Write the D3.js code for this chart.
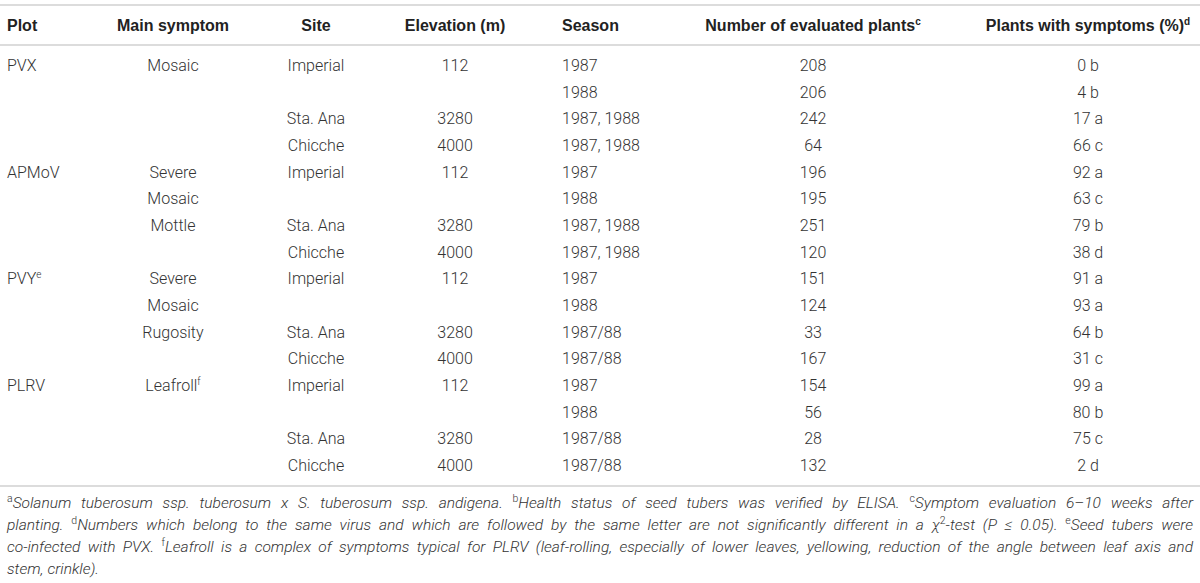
<!DOCTYPE html>
<html><head><meta charset="utf-8">
<script src="https://cdn.jsdelivr.net/npm/d3@7"></script>
<style>
html,body{margin:0;padding:0;background:#fff;}
svg{display:block;}
</style></head>
<body>
<script>
// ---- data ----
const headers = ["Plot","Main symptom","Site","Elevation (m)","Season","Number of evaluated plants","Plants with symptoms (%)"];
const headerSups = ["","","","","","c","d"];
const plots = ["PVX","","","","APMoV","","","","PVY","","","","PLRV","","",""];
const plotSups = ["","","","","","","","","e","","","","","","",""];
const symptoms = ["Mosaic","","","","Severe","Mosaic","Mottle","","Severe","Mosaic","Rugosity","","Leafroll","","",""];
const symptomSups = ["","","","","","","","","","","","","f","","",""];
const sites = ["Imperial","","Sta. Ana","Chicche","Imperial","","Sta. Ana","Chicche","Imperial","","Sta. Ana","Chicche","Imperial","","Sta. Ana","Chicche"];
const elevations = ["112","","3280","4000","112","","3280","4000","112","","3280","4000","112","","3280","4000"];
const seasons = ["1987","1988","1987, 1988","1987, 1988","1987","1988","1987, 1988","1987, 1988","1987","1988","1987/88","1987/88","1987","1988","1987/88","1987/88"];
const evaluated = [208,206,242,64,196,195,251,120,151,124,33,167,154,56,28,132];
const symptomPct = [0,4,17,66,92,63,79,38,91,93,64,31,99,80,75,2];
const pctLetters = ["b","b","a","c","a","c","b","d","a","a","b","c","a","b","c","d"];
const footnoteLines = [
  "^aSolanum tuberosum ssp. tuberosum x S. tuberosum ssp. andigena. ^bHealth status of seed tubers was verified by ELISA. ^cSymptom evaluation 6–10 weeks after",
  "planting. ^dNumbers which belong to the same virus and which are followed by the same letter are not significantly different in a χ^2-test (P ≤ 0.05). ^eSeed tubers were",
  "co-infected with PVX. ^fLeafroll is a complex of symptoms typical for PLRV (leaf-rolling, especially of lower leaves, yellowing, reduction of the angle between leaf axis and",
  "stem, crinkle)."
];

// ---- layout ----
const W = 1200, H = 583;
const FONT = "Roboto, 'Liberation Sans', Arial, sans-serif";
const textCol = "#333";
const lineCol = "#dcdcdc";

const svg = d3.select("body").append("svg").attr("width", W).attr("height", H);

const cols = [
  {x: 7, anchor: "start"},
  {x: 173, anchor: "middle"},
  {x: 316, anchor: "middle"},
  {x: 455, anchor: "middle"},
  {x: 562, anchor: "start"},
  {x: 813, anchor: "middle"},
  {x: 1088, anchor: "middle"}
];

const rowIdx = d3.range(evaluated.length);
const y = d3.scalePoint().domain(rowIdx).range([71, 471]);

// rules
const rules = [5, 45, 486];
svg.selectAll("line.rule").data(rules).join("line")
  .attr("class","rule")
  .attr("x1",0).attr("x2",W)
  .attr("y1",d=>d).attr("y2",d=>d)
  .attr("stroke",lineCol).attr("stroke-width",2);

// header
const hdr = svg.append("g").attr("font-family", "'Liberation Sans', Arial, sans-serif")
  .attr("font-weight","bold").attr("font-size",16).attr("fill","#222");
headers.forEach((h,i)=>{
  const t = hdr.append("text").attr("x",cols[i].x).attr("y",31).attr("text-anchor",cols[i].anchor);
  t.append("tspan").text(h);
  if (headerSups[i]) t.append("tspan").attr("font-size",10).attr("dy",-6).text(headerSups[i]);
});

// body
const body = svg.append("g").attr("font-family",FONT).attr("font-weight",300)
  .attr("font-size",16).attr("fill",textCol);

function column(i, values, sups){
  const g = body.append("g");
  const t = g.selectAll("text").data(rowIdx.filter(r=>values[r]!=="")).join("text")
    .attr("x", cols[i].x).attr("y", r=>y(r)).attr("text-anchor", cols[i].anchor);
  t.append("tspan").text(r=>values[r]);
  if (sups) t.filter(r=>sups[r]).append("tspan").attr("font-size",10).attr("dy",-6).text(r=>sups[r]);
}
column(0, plots, plotSups);
column(1, symptoms, symptomSups);
column(2, sites);
column(3, elevations);
column(4, seasons);
column(5, evaluated.map(String));
column(6, symptomPct.map((v,i)=>v+" "+pctLetters[i]));

// footnotes (justified)
const fn = svg.append("g").attr("font-family",FONT).attr("font-weight",300)
  .attr("font-size",15.5).attr("fill",textCol);
const fnY = [508, 530, 552, 574];
const left = 7, right = 1193;

function addWord(g, word){
  const t = g.append("text");
  const parts = word.split(/\^(.)/);
  parts.forEach((p,k)=>{
    if (p==="") return;
    if (k%2===1) {
      t.append("tspan").attr("font-size",10.5).attr("dy",-6).attr("font-style","normal").text(p);
    } else {
      const sp = t.append("tspan").attr("font-style","italic").text(p);
      if (k>0) sp.attr("dy",6);
    }
  });
  return t;
}
footnoteLines.forEach((line,li)=>{
  const g = fn.append("g");
  const words = line.split(" ");
  const nodes = words.map(w=>addWord(g,w));
  const widths = nodes.map(n=>n.node().getComputedTextLength());
  const total = d3.sum(widths);
  const justify = li < footnoteLines.length-1;
  const gap = justify ? (right-left-total)/(words.length-1) : 4;
  let x = left;
  nodes.forEach((n,k)=>{ n.attr("x",x).attr("y",fnY[li]); x += widths[k]+gap; });
});
</script>
</body></html>
